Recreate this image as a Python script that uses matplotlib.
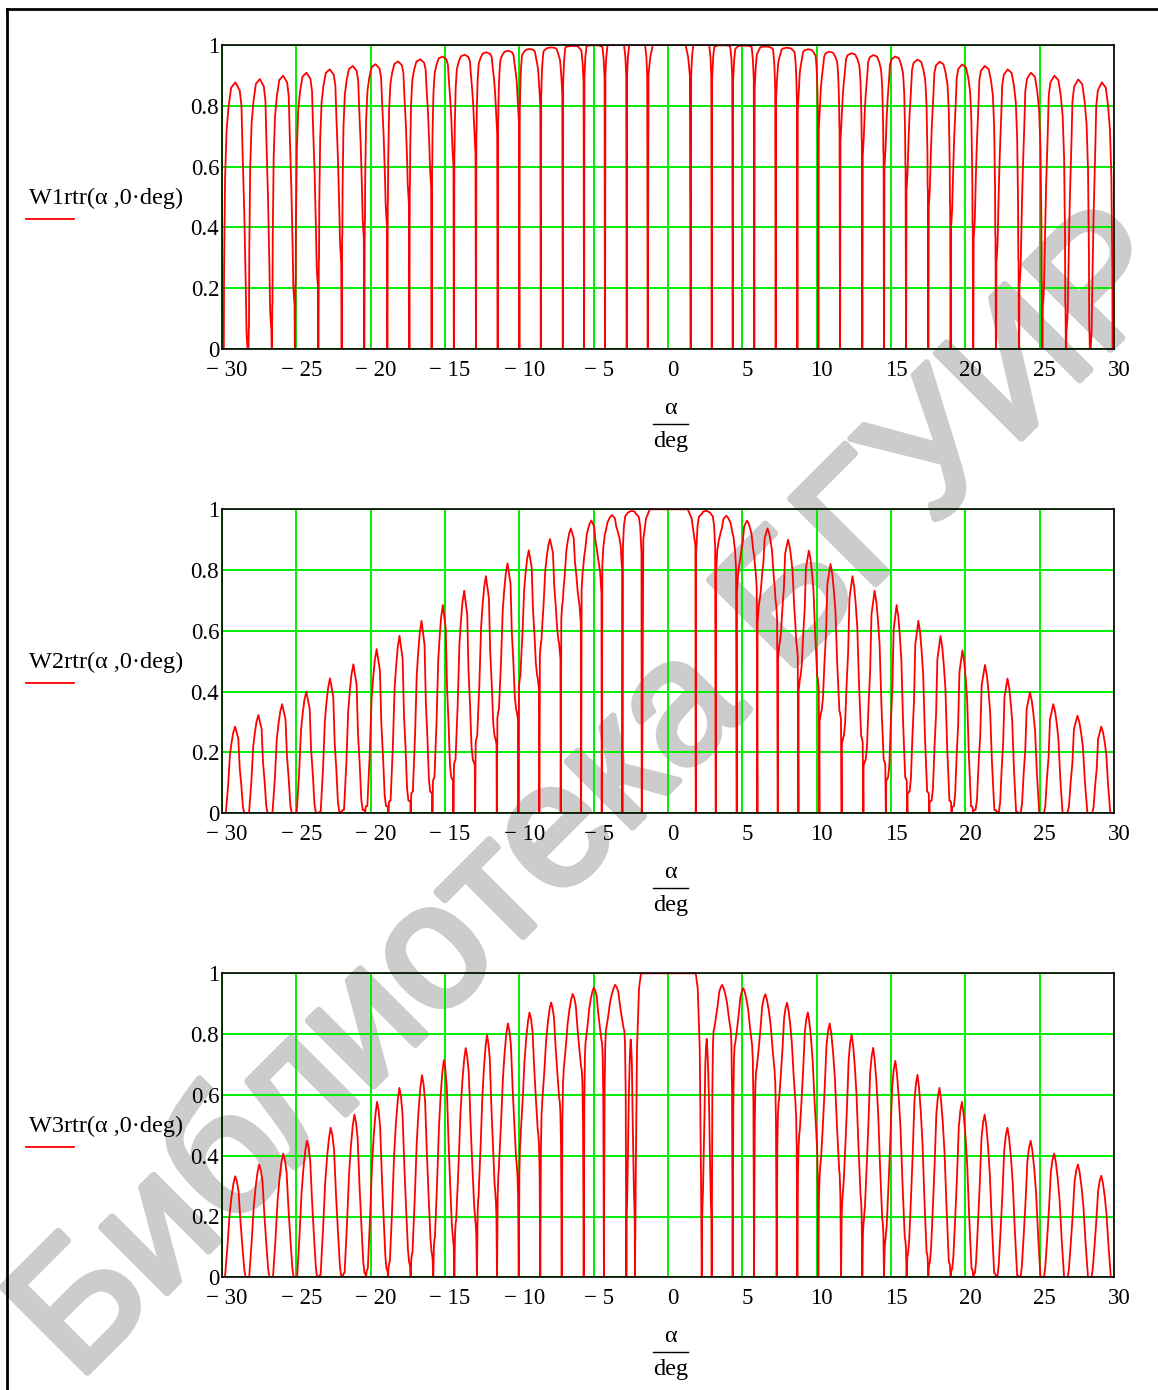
import numpy as np
import matplotlib.pyplot as plt
import matplotlib.transforms as mtransforms
import matplotlib.patheffects as pe
from matplotlib.lines import Line2D

plt.rcParams['font.family'] = ['Liberation Serif', 'DejaVu Serif']

# zeros of each curve, deg (left side: outer -> inner, right side: inner -> outer)
w1_nulls_left = [-29.93, -28.23, -26.65, -25.09, -23.52, -21.95, -20.43, -18.88, -17.40, -15.90,
                 -14.40, -12.92, -11.46, -10.00, -8.56, -7.08, -5.65, -4.24, -2.78, -1.37]
w1_nulls_right = [1.53, 2.94, 4.35, 5.80, 7.24, 8.70, 10.11, 11.57, 13.07, 14.53,
                  16.01, 17.51, 19.01, 20.53, 22.06, 23.61, 25.18, 26.77, 28.38, 29.95]
w2_nulls_left = [-29.90, -28.34, -26.77, -25.14, -23.52, -21.95, -20.38, -18.81, -17.31, -15.85,
                 -14.44, -12.98, -11.52, -10.07, -8.66, -7.22, -5.85, -4.46, -3.07, -1.77]
w2_nulls_right = [1.88, 3.21, 4.62, 6.01, 7.38, 8.77, 10.18, 11.68, 13.14, 14.66,
                  16.10, 17.58, 19.08, 20.53, 22.11, 23.56, 25.13, 26.70, 28.38, 29.91]
w3_nulls_left = [-29.93, -28.30, -26.70, -25.07, -23.50, -21.88, -20.31, -18.83, -17.31, -15.79,
                 -14.37, -12.85, -11.50, -10.04, -8.59, -7.15, -5.67, -4.31, -2.80, -2.22]
w3_nulls_right = [2.27, 2.94, 4.35, 5.79, 7.31, 8.70, 10.11, 11.64, 13.07, 14.53,
                  16.05, 17.51, 19.01, 20.54, 22.06, 23.61, 25.18, 26.77, 28.38, 29.91]

# side lobe maxima (left: outer -> inner, right: inner -> outer); main lobe = 1
w1_peaks_left = [0.877, 0.888, 0.899, 0.909, 0.920, 0.931, 0.937, 0.946, 0.953, 0.962,
                 0.968, 0.976, 0.981, 0.987, 0.992, 0.997, 0.999, 1.0, 1.0]
w1_peaks_right = [1.0, 0.999, 0.998, 0.995, 0.991, 0.986, 0.978, 0.973, 0.967, 0.962,
                  0.952, 0.945, 0.936, 0.931, 0.920, 0.909, 0.899, 0.887, 0.877]
w2_peaks_left = [0.285, 0.323, 0.359, 0.400, 0.444, 0.490, 0.540, 0.584, 0.633, 0.685,
                 0.732, 0.780, 0.822, 0.865, 0.902, 0.937, 0.963, 0.981, 0.995]
w2_peaks_right = [0.995, 0.979, 0.963, 0.937, 0.900, 0.864, 0.820, 0.780, 0.732, 0.685,
                  0.633, 0.583, 0.536, 0.488, 0.443, 0.398, 0.359, 0.321, 0.285]
w3_peaks_left = [0.332, 0.371, 0.407, 0.449, 0.492, 0.535, 0.577, 0.623, 0.665, 0.714,
                 0.754, 0.797, 0.835, 0.871, 0.904, 0.932, 0.953, 0.962, 0.782]
w3_peaks_right = [0.784, 0.962, 0.951, 0.931, 0.903, 0.871, 0.835, 0.798, 0.755, 0.712,
                  0.666, 0.623, 0.577, 0.535, 0.492, 0.449, 0.407, 0.371, 0.334]

# lobe shapes (u: 0 = outer zero, 1 = inner zero; v: fraction of lobe max)
w1_low_u = [0, 0.03, 0.04, 0.08, 0.14, 0.22, 0.32, 0.49, 0.66, 0.73, 0.77, 0.84, 0.90, 0.93, 0.97, 1.0]
w1_low_v = [0, 0, 0.29, 0.64, 0.82, 0.91, 0.98, 1.0, 0.97, 0.91, 0.75, 0.51, 0.23, 0.06, 0, 0]
w1_high_u = [0, 0.005, 0.02, 0.06, 0.12, 0.5, 0.88, 0.94, 0.98, 0.995, 1.0]
w1_high_v = [0, 0, 0.9, 0.96, 1.0, 1.0, 1.0, 0.96, 0.9, 0, 0]
w2_low_u = [0, 0.10, 0.20, 0.28, 0.35, 0.42, 0.50, 0.57, 0.64, 0.70, 0.77, 0.84, 0.90, 1.0]
w2_low_v = [0, 0, 0.32, 0.68, 0.82, 0.93, 1.0, 0.93, 0.86, 0.52, 0.32, 0.07, 0, 0]
w2_high_u = [0, 0.005, 0.03, 0.08, 0.15, 0.5, 0.85, 0.92, 0.96, 0.99, 0.995, 1.0]
w2_high_v = [0, 0, 0.9, 0.97, 1.0, 1.0, 1.0, 0.97, 0.92, 0.88, 0, 0]
w3_low_u = [0, 0.08, 0.18, 0.27, 0.35, 0.43, 0.50, 0.57, 0.64, 0.72, 0.80, 0.88, 0.93, 1.0]
w3_low_v = [0, 0, 0.3, 0.62, 0.8, 0.93, 1.0, 0.95, 0.85, 0.55, 0.3, 0.07, 0, 0]
w3_high_u = [0, 0.01, 0.03, 0.06, 0.09, 0.5, 0.91, 0.94, 0.97, 0.99, 1.0]
w3_high_v = [0, 0.3, 0.75, 0.95, 1.0, 1.0, 1.0, 0.95, 0.75, 0.3, 0]

names = ['W1rtr(\u03b1 ,0\u00b7deg)', 'W2rtr(\u03b1 ,0\u00b7deg)', 'W3rtr(\u03b1 ,0\u00b7deg)']

x_ticks = [-30, -25, -20, -15, -10, -5, 0, 5, 10, 15, 20, 25, 30]
x_ticklabels = ['\u2212 30', '\u2212 25', '\u2212 20', '\u2212 15', '\u2212 10', '\u2212 5',
                '0', '5', '10', '15', '20', '25', '30']
y_ticks = [0, 0.2, 0.4, 0.6, 0.8, 1.0]
y_ticklabels = ['0', '0.2', '0.4', '0.6', '0.8', '1']


def build_curve(nl, nr, hl, hr, lu, lv, hu, hv, p):
    ug = np.unique(np.concatenate([lu, hu]))
    vl = np.interp(ug, lu, lv)
    vh = np.interp(ug, hu, hv)
    h0 = hl[0]
    edges = list(nl) + list(nr)
    heights = list(hl) + [1.0] + list(hr)
    xs, ys = [-30.0], [0.0]
    for i, h in enumerate(heights):
        a, b = edges[i], edges[i + 1]
        s = np.clip((h - h0) / (1 - h0), 0, 1) ** p
        v = h * (vl + s * (vh - vl))
        if a >= 0:  # right half: outer zero is on the right
            x = b - ug * (b - a)
            x, v = x[::-1], v[::-1]
        else:
            x = a + ug * (b - a)
        xs.extend(x)
        ys.extend(v)
    xs.append(30.0)
    ys.append(0.0)
    return np.array(xs), np.array(ys)


curves = [
    build_curve(w1_nulls_left, w1_nulls_right, w1_peaks_left, w1_peaks_right,
                w1_low_u, w1_low_v, w1_high_u, w1_high_v, 1),
    build_curve(w2_nulls_left, w2_nulls_right, w2_peaks_left, w2_peaks_right,
                w2_low_u, w2_low_v, w2_high_u, w2_high_v, 3),
    build_curve(w3_nulls_left, w3_nulls_right, w3_peaks_left, w3_peaks_right,
                w3_low_u, w3_low_v, w3_high_u, w3_high_v, 3),
]

W, H = 1158, 1390
fig = plt.figure(figsize=(W / 100, H / 100), dpi=100)


def fx(px):
    return px / W


def fy(py):
    return 1 - py / H


# page frame (cut at right and bottom)
fig.add_artist(Line2D([fx(7), fx(W)], [fy(9), fy(9)], color='black', lw=2))
fig.add_artist(Line2D([fx(7), fx(7)], [fy(9), fy(H)], color='black', lw=2))

# watermark
fig.text(fx(598), fy(798), 'Библиотека БГУИР', family='Liberation Sans', fontsize=126,
         color='#cccccc', rotation=45, rotation_mode='anchor', ha='center', va='center',
         zorder=-5, path_effects=[pe.withStroke(linewidth=5, foreground='#cccccc')])

panel_tops = [45, 509.3, 973.3]
ax_h = 304
for k, (xc, yc) in enumerate(curves):
    top = panel_tops[k]
    ax = fig.add_axes([fx(222), fy(top + ax_h), fx(1114) - fx(222), ax_h / H])
    ax.set_facecolor('none')
    ax.plot(xc, yc, color='#ff0000', lw=1.3, zorder=3)
    ax.set_xlim(-30, 30)
    ax.set_ylim(0, 1)
    ax.set_xticks(x_ticks)
    ax.set_xticklabels(x_ticklabels)
    ax.set_yticks(y_ticks)
    ax.set_yticklabels(y_ticklabels)
    ax.grid(True, color='#00ee00', lw=1.4, zorder=1)
    ax.set_axisbelow(True)
    ax.tick_params(length=0, labelsize=16.5)
    ax.tick_params(axis='x', pad=8)
    ax.tick_params(axis='y', pad=2)
    for lab in ax.get_xticklabels():
        lab.set_transform(lab.get_transform() +
                          mtransforms.ScaledTranslation(5 / 100, 0, fig.dpi_scale_trans))
    for sp in ax.spines.values():
        sp.set_color('black')
        sp.set_linewidth(1.2)
        sp.set_zorder(4)

    # y label with its trace sample
    mid = top + ax_h / 2
    fig.text(fx(29), fy(mid + 1), names[k], fontsize=17.5, ha='left', va='center')
    fig.add_artist(Line2D([fx(26), fx(74)], [fy(mid + 22), fy(mid + 22)], color='#ff0000', lw=1.3))

    # x label as a fraction alpha / deg
    bottom = top + ax_h
    fig.text(fx(670), fy(bottom + 59), '\u03b1', fontsize=17.5, ha='center', va='center')
    fig.add_artist(Line2D([fx(653), fx(688)], [fy(bottom + 75), fy(bottom + 75)], color='black', lw=1))
    fig.text(fx(671), fy(bottom + 92), 'deg', fontsize=17.5, ha='center', va='center')

plt.savefig('out.png', dpi=100)
